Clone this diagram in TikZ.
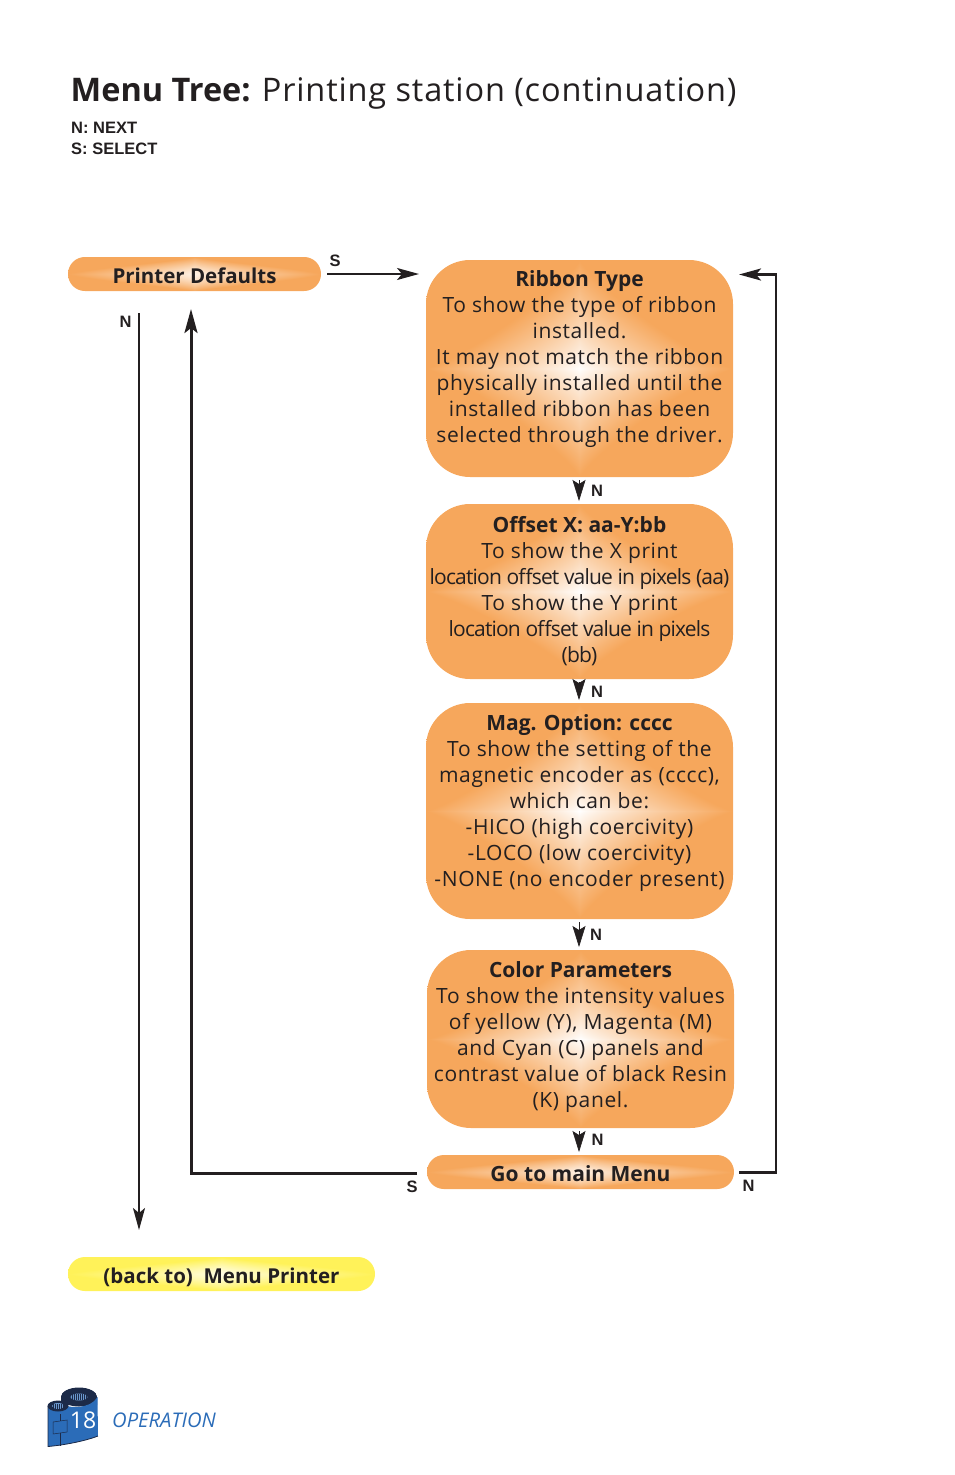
\documentclass[tikz,border=0pt]{standalone}
\usepackage{fontspec}
\setmainfont{Open Sans}
\newfontfamily\bodyf[LetterSpace=3]{Open Sans}
\newfontfamily\tightf[LetterSpace=-3.9]{Open Sans}
\newfontfamily\keyf{Liberation Sans}
\usetikzlibrary{arrows.meta,calc}
\definecolor{ink}{HTML}{231F20}
\definecolor{boxor}{HTML}{F6A75C}
\definecolor{logob}{HTML}{2B6CB8}
\definecolor{logod}{HTML}{1C2A48}
\pgfdeclarefunctionalshading{orglow}{\pgfpointorigin}{\pgfpoint{100bp}{100bp}}{}{
  50 sub abs 25 div 0.85 exp exch 50 sub abs 25 div 0.85 exp add
  dup 1 gt {pop 1} if 1 exch sub
  dup dup
  0.035 mul 0.965 add 3 1 roll
  0.345 mul 0.655 add exch
  0.64 mul 0.36 add
}
\pgfdeclarefunctionalshading{orpill}{\pgfpointorigin}{\pgfpoint{100bp}{100bp}}{}{
  50 sub abs 25 div 1.4 exp exch 50 sub abs 25 div 0.8 exp add
  dup 1 gt {pop 1} if 1 exch sub 0.85 mul
  dup dup
  0.035 mul 0.965 add 3 1 roll
  0.345 mul 0.655 add exch
  0.64 mul 0.36 add
}
\pgfdeclarefunctionalshading{yeglow}{\pgfpointorigin}{\pgfpoint{100bp}{100bp}}{}{
  50 sub abs 25 div 1.4 exp exch 50 sub abs 25 div 0.8 exp add
  dup 1 gt {pop 1} if 1 exch sub 0.85 mul
  dup dup
  0 mul 1 add 3 1 roll
  0.05 mul 0.95 add exch
  0.65 mul 0.35 add
}
\newcommand{\boxtext}[2]{\parbox[c][#1pt][t]{307pt}{\centering\fontsize{21}{26}\selectfont\bodyf\color{ink}#2}}
\newcommand{\bhead}[1]{{\fontsize{21}{26}\selectfont\normalfont\bfseries #1}}
\newcommand{\tight}[1]{{\tightf #1}}
\newcommand{\pilltext}[1]{\raisebox{-9pt}[0pt][0pt]{#1}}
\tikzset{
  bigbox/.style={shading=orglow,rounded corners=44pt,inner sep=0pt,outer sep=0pt,text=ink,align=center},
  pill/.style={shading=orpill,rounded corners=16.9pt,inner sep=0pt,outer sep=0pt,text=ink,font=\fontsize{20.5}{26}\selectfont\bfseries,minimum height=34pt},
  yepill/.style={pill,shading=yeglow},
  nextarrow/.style={draw=ink,fill=ink,line width=0.6pt,-{Stealth[length=21pt,width=13pt,inset=4pt]},shorten >=3pt,shorten <=3pt},
  thinarrow/.style={draw=ink,line width=2pt,-{Stealth[length=22pt,width=12pt,inset=5pt]}},
  backarrow/.style={draw=ink,line width=3pt,-{Stealth[length=24pt,width=13pt,inset=5pt]}},
  key/.style={text=ink,font=\fontsize{16.5}{17}\selectfont\keyf\bfseries,inner sep=0pt},
}
\begin{document}
\begin{tikzpicture}[x=1pt,y=-1pt]
\useasboundingbox (0,0) rectangle (954,1475);
\node[anchor=base west,inner sep=0pt,text=ink] (title) at (70.5,101) {\fontsize{32.5}{36}\selectfont\textbf{Menu Tree:} {\addfontfeature{LetterSpace=2.6}Printing station (continuation)}};
\node[key,anchor=base west] (nnext) at (71,133) {N: NEXT};
\node[key,anchor=base west] (ssel) at (71,154) {S: SELECT};

\node[pill,minimum width=253pt] (pd) at (194.5,274) {\pilltext{Printer Defaults}};
\node[bigbox,minimum width=307pt,minimum height=217pt] (ribbon) at (579.5,368.5)
 {\boxtext{195}{\bhead{Ribbon Type}\\To show the type of ribbon\\installed.\\It may not match the ribbon\\physically installed until the\\installed ribbon has been\\selected through the driver.}};
\node[bigbox,minimum width=307pt,minimum height=175pt] (offset) at (579.5,591.5)
 {\boxtext{151}{\bhead{Offset X: aa-Y:bb}\\To show the X print\\\tight{location offset value in pixels (aa)}\\To show the Y print\\\tight{location offset value in pixels}\\\tight{(bb)}}};
\node[bigbox,minimum width=307pt,minimum height=216pt] (mag) at (579.5,811)
 {\boxtext{193}{\bhead{Mag. Option: cccc}\\To show the setting of the\\magnetic encoder as (cccc),\\which can be:\\-HICO (high coercivity)\\-LOCO (low coercivity)\\-NONE (no encoder present)}};
\node[bigbox,minimum width=307pt,minimum height=178pt] (color) at (580.5,1039)
 {\boxtext{155}{\bhead{Color Parameters}\\To show the intensity values\\of yellow (Y), Magenta (M)\\and Cyan (C) panels and\\contrast value of black Resin\\(K) panel.}};
\node[pill,minimum width=307pt] (gomenu) at (580.5,1172) {\pilltext{\fontsize{21}{26}\selectfont Go to main Menu}};
\node[yepill,minimum width=307pt] (backm) at (221.5,1274) {\pilltext{(back to)\ \ Menu Printer}};

% connectors
\coordinate (sa) at (327,274);
\coordinate (sb) at (419,274);
\draw[thinarrow] (sa) -- (sb);
\draw[nextarrow] (ribbon.south -| 579,0) -- (offset.north -| 579,0);
\draw[nextarrow] (offset.south -| 579,0) -- (mag.north -| 579,0);
\draw[nextarrow] (mag.south -| 579,0) -- (color.north -| 579,0);
\draw[nextarrow] (color.south -| 579,0) -- (gomenu.north -| 579,0);
\coordinate (na) at (139,313);
\coordinate (nb) at (139,1230);
\draw[thinarrow] (na) -- (nb);
\coordinate (ga) at (417,1173);
\coordinate (gb) at (191,1173);
\coordinate (gc) at (191,309);
\draw[backarrow,line join=miter] (ga) -- (gb) -- (gc);
\coordinate (ra) at (739,1172.5);
\coordinate (rb) at (776,1172.5);
\coordinate (rc) at (776,274.5);
\coordinate (rd) at (739,274.5);
\draw[draw=ink,line width=2.6pt,-{Stealth[length=22pt,width=12pt,inset=5pt]}] (ra) -- (rb) -- (rc) -- (rd);

% letters
\node[key,anchor=base] (ls) at (335,266) {S};
\node[key,anchor=base] (ln) at (125.5,327) {N};
\node[key,anchor=base] (n1) at (597,496) {N};
\node[key,anchor=base] (n2) at (597,697) {N};
\node[key,anchor=base] (n3) at (596,940) {N};
\node[key,anchor=base] (n4) at (597.5,1145) {N};
\node[key,anchor=base] (ls2) at (412,1192) {S};
\node[key,anchor=base] (n5) at (748.5,1191) {N};

% logo
\fill[logod] (61,1397) -- (61,1405) -- (97,1405) -- (97,1397) arc (0:-180:18 and 9) -- cycle;
\fill[logod] (79,1397) ellipse (18 and 9.5);
\fill[logob] (48,1406) .. controls (48,1412) and (68,1412) .. (68,1406) .. controls (68,1407) and (90,1410) .. (97.5,1397) -- (98,1436) .. controls (85,1441) and (65,1445) .. (48,1446.5) -- cycle;
\draw[logod,line width=0.8pt] (48,1406) -- (48,1446.5) .. controls (65,1445) and (85,1441) .. (98,1436);
\fill[logod] (58,1406) ellipse (10.5 and 5.5);
\fill[logob!70!white] (58,1406) ellipse (6 and 3);
\fill[logob!70!white] (79,1397) ellipse (8.5 and 3.5);
\foreach \xx in {53,55,57,59,61,63} {\draw[logod,line width=0.5pt] (\xx,1403.5) -- (\xx,1408.5);}
\foreach \xx in {72,74,76,78,80,82,84,86} {\draw[logod,line width=0.5pt] (\xx,1394) -- (\xx,1400);}
\draw[logod,line width=0.5pt] (53,1422) -- (67,1420) -- (67,1432) -- (53,1434) -- cycle;
\draw[logod,line width=0.5pt] (60,1414) -- (60,1421) (60,1433) -- (60,1446);
\node[anchor=base,inner sep=0pt,text=white,font=\fontsize{23}{24}\selectfont] (num) at (83,1428) {18};
\node[anchor=base west,inner sep=0pt,text=logob,font=\fontsize{20.2}{24}\selectfont\itshape] (op) at (112,1427) {OPERATION};
\end{tikzpicture}
\end{document}
